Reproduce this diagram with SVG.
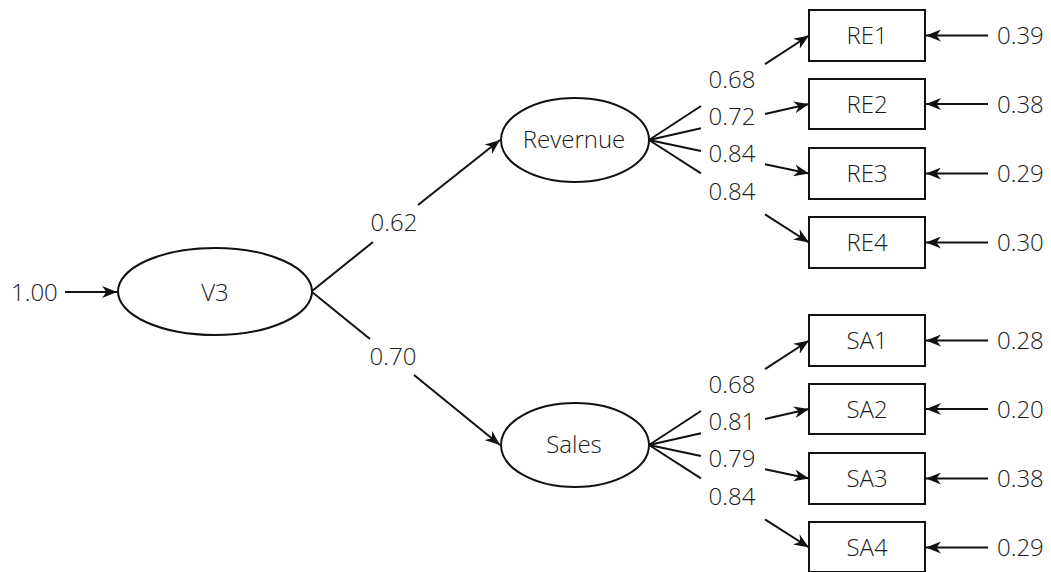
<svg xmlns="http://www.w3.org/2000/svg" width="1051" height="572" viewBox="0 0 1051 572">
<defs>
<marker id="arr" viewBox="0 0 15 12" markerWidth="15" markerHeight="12" refX="15" refY="6" orient="auto" markerUnits="userSpaceOnUse">
<path d="M0,0 L15,6 L0,12 L4.5,6 z" fill="#111"/>
</marker>
<style>
text{font-family:"Open Sans","Noto Sans","DejaVu Sans",sans-serif;font-size:24px;font-weight:300;fill:#1a1a1a}
.c{text-anchor:middle}
.node{fill:#fff;stroke:#111;stroke-width:2}
.edge{fill:none;stroke:#111;stroke-width:2;marker-end:url(#arr)}
</style>
</defs>
<rect width="1051" height="572" fill="#fff"/>
<g id="connectors">
<path class="edge" d="M65,292 L117,292"/>
<path class="edge" d="M312,291 L373,242 M418,205 L500,140"/>
<path class="edge" d="M312,292 L370,339 M414,375 L500,445"/>
<path class="edge" d="M649,140 L701,106 M765,64.2 L809,35.5"/>
<path class="edge" d="M649,140 L701,128.3 M765,113.9 L809,104"/>
<path class="edge" d="M649,140 L701,150.9 M765,164.3 L809,173.5"/>
<path class="edge" d="M649,140 L701,173.3 M765,214.3 L809,242.5"/>
<path class="edge" d="M649,445 L701,411 M765,369.2 L809,340.5"/>
<path class="edge" d="M649,445 L701,433.3 M765,418.9 L809,409"/>
<path class="edge" d="M649,445 L701,455.9 M765,469.3 L809,478.5"/>
<path class="edge" d="M649,445 L701,478.3 M765,519.3 L809,547.5"/>
<path class="edge" d="M988,35.5 L926,35.5"/>
<path class="edge" d="M988,104 L926,104"/>
<path class="edge" d="M988,173.5 L926,173.5"/>
<path class="edge" d="M988,242.5 L926,242.5"/>
<path class="edge" d="M988,340.5 L926,340.5"/>
<path class="edge" d="M988,409 L926,409"/>
<path class="edge" d="M988,478.5 L926,478.5"/>
<path class="edge" d="M988,547.5 L926,547.5"/>
</g>
<g id="labels">
<text x="11" y="301">1.00</text>
<text class="c" x="394" y="231">0.62</text>
<text class="c" x="393" y="365">0.70</text>
<text class="c" x="732" y="88">0.68</text>
<text class="c" x="732" y="125">0.72</text>
<text class="c" x="732" y="162">0.84</text>
<text class="c" x="732" y="200">0.84</text>
<text class="c" x="732" y="393">0.68</text>
<text class="c" x="732" y="430">0.81</text>
<text class="c" x="732" y="467">0.79</text>
<text class="c" x="732" y="505">0.84</text>
<text x="997" y="44">0.39</text>
<text x="997" y="113">0.38</text>
<text x="997" y="182">0.29</text>
<text x="997" y="251">0.30</text>
<text x="997" y="349">0.28</text>
<text x="997" y="418">0.20</text>
<text x="997" y="487">0.38</text>
<text x="997" y="556">0.29</text>
</g>
<g id="V3"><ellipse class="node" cx="215" cy="291.5" rx="97" ry="43.5"/><text class="c" x="215" y="301">V3</text></g>
<g id="Revernue"><ellipse class="node" cx="575" cy="140" rx="74" ry="42"/><text class="c" x="574" y="148">Revernue</text></g>
<g id="Sales"><ellipse class="node" cx="575" cy="445" rx="74" ry="42"/><text class="c" x="574" y="453">Sales</text></g>
<g id="RE1"><rect class="node" x="809" y="10" width="116" height="51"/><text class="c" x="867" y="44">RE1</text></g>
<g id="RE2"><rect class="node" x="809" y="79" width="116" height="50"/><text class="c" x="867" y="113">RE2</text></g>
<g id="RE3"><rect class="node" x="809" y="148" width="116" height="51"/><text class="c" x="867" y="182">RE3</text></g>
<g id="RE4"><rect class="node" x="809" y="217" width="116" height="51"/><text class="c" x="867" y="251">RE4</text></g>
<g id="SA1"><rect class="node" x="809" y="315" width="116" height="51"/><text class="c" x="867" y="349">SA1</text></g>
<g id="SA2"><rect class="node" x="809" y="384" width="116" height="50"/><text class="c" x="867" y="418">SA2</text></g>
<g id="SA3"><rect class="node" x="809" y="453" width="116" height="51"/><text class="c" x="867" y="487">SA3</text></g>
<g id="SA4"><rect class="node" x="809" y="522" width="116" height="50"/><text class="c" x="867" y="556">SA4</text></g>
</svg>
